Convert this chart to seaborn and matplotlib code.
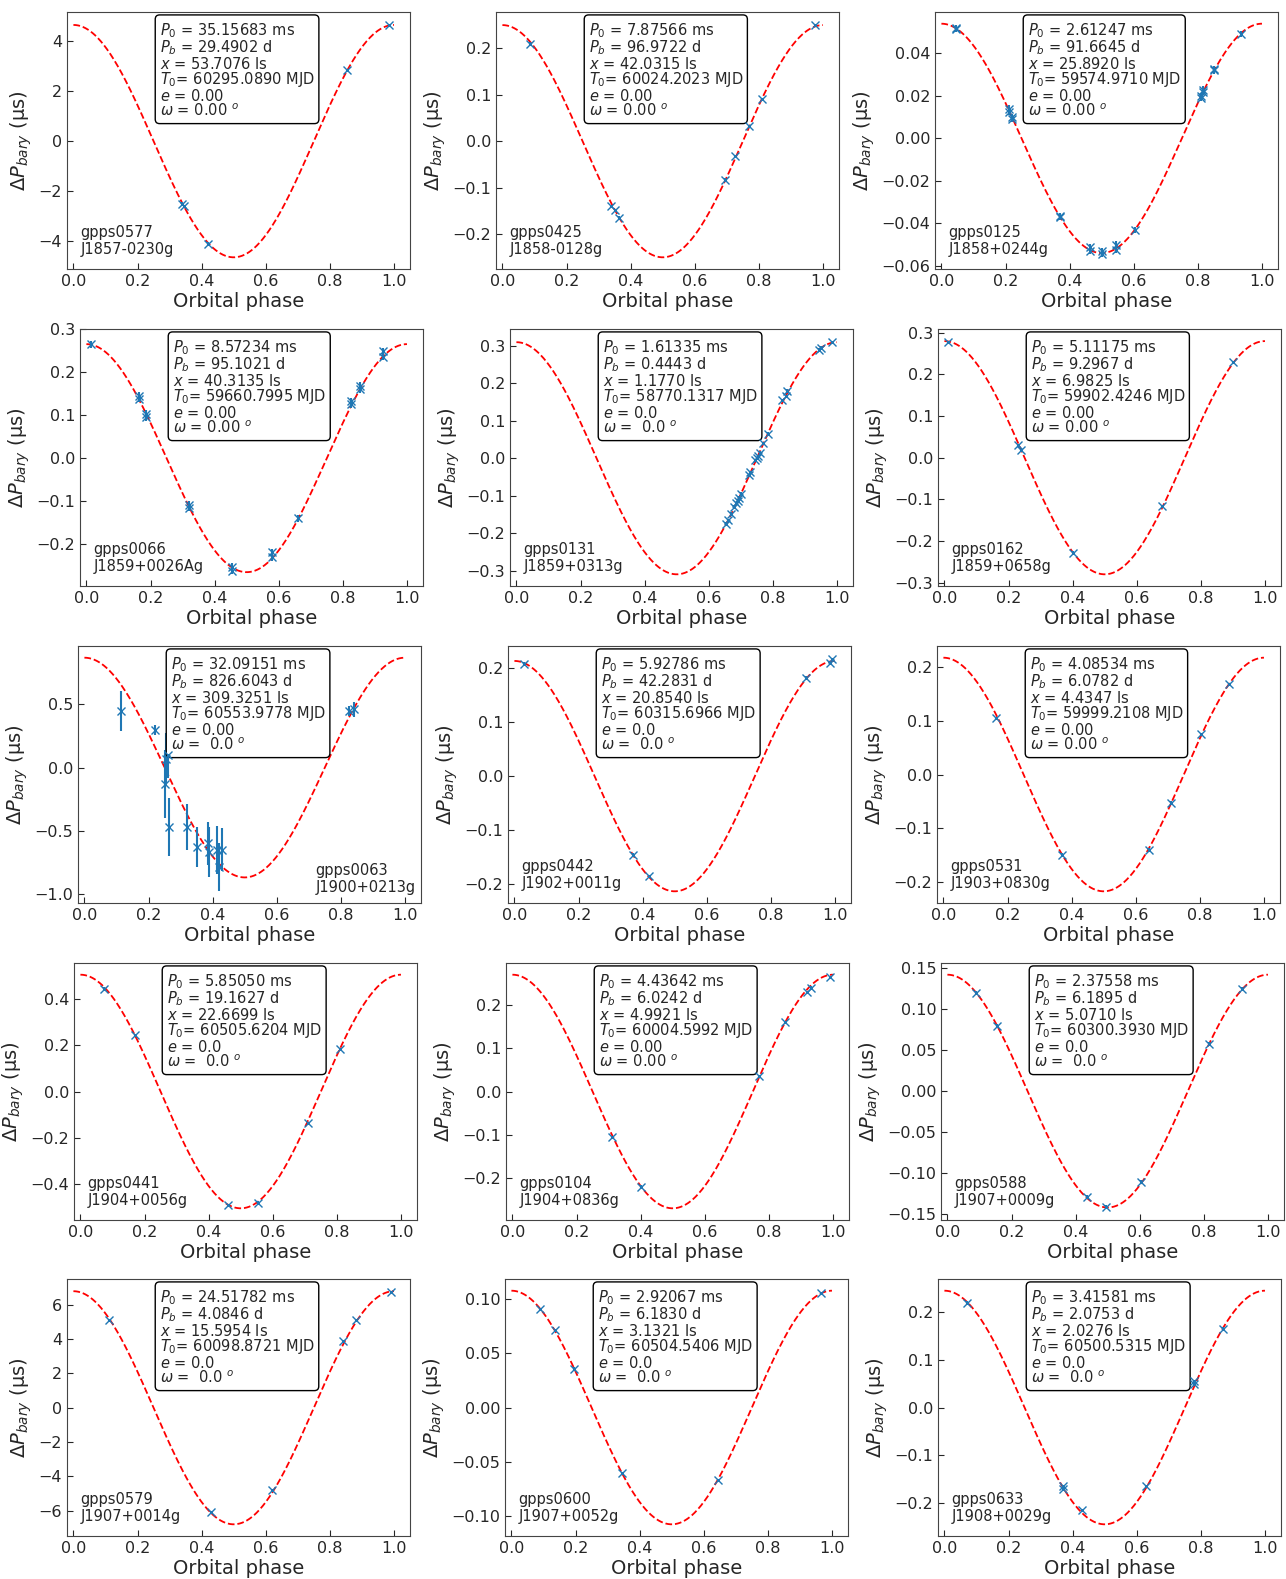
import numpy as np
import seaborn as sns
from matplotlib import pyplot as plt
from matplotlib.ticker import MultipleLocator

# pulsar names and fitted orbital parameters (as printed in the boxes)
gpps = ['gpps0577', 'gpps0425', 'gpps0125', 'gpps0066', 'gpps0131', 'gpps0162',
        'gpps0063', 'gpps0442', 'gpps0531', 'gpps0441', 'gpps0104', 'gpps0588',
        'gpps0579', 'gpps0600', 'gpps0633']
jnames = ['J1857-0230g', 'J1858-0128g', 'J1858+0244g', 'J1859+0026Ag', 'J1859+0313g',
          'J1859+0658g', 'J1900+0213g', 'J1902+0011g', 'J1903+0830g', 'J1904+0056g',
          'J1904+0836g', 'J1907+0009g', 'J1907+0014g', 'J1907+0052g', 'J1908+0029g']
p0_ms = ['35.15683', '7.87566', '2.61247', '8.57234', '1.61335', '5.11175', '32.09151',
         '5.92786', '4.08534', '5.85050', '4.43642', '2.37558', '24.51782', '2.92067', '3.41581']
pb_d = ['29.4902', '96.9722', '91.6645', '95.1021', '0.4443', '9.2967', '826.6043',
        '42.2831', '6.0782', '19.1627', '6.0242', '6.1895', '4.0846', '6.1830', '2.0753']
x_ls = ['53.7076', '42.0315', '25.8920', '40.3135', '1.1770', '6.9825', '309.3251',
        '20.8540', '4.4347', '22.6699', '4.9921', '5.0710', '15.5954', '3.1321', '2.0276']
t0_mjd = ['60295.0890', '60024.2023', '59574.9710', '59660.7995', '58770.1317', '59902.4246',
          '60553.9778', '60315.6966', '59999.2108', '60505.6204', '60004.5992', '60300.3930',
          '60098.8721', '60504.5406', '60500.5315']
ecc = ['0.00', '0.00', '0.00', '0.00', '0.0', '0.00', '0.00', '0.0', '0.00', '0.0',
       '0.00', '0.0', '0.0', '0.0', '0.0']
omega = ['0.00', '0.00', '0.00', '0.00', ' 0.0', '0.00', ' 0.0', ' 0.0', '0.00', ' 0.0',
         '0.00', ' 0.0', ' 0.0', ' 0.0', ' 0.0']
# model semi-amplitude of the period variation (us)
amp_us = [4.65, 0.25, 0.054, 0.265, 0.31, 0.28, 0.87, 0.213, 0.218, 0.505,
          0.27, 0.142, 6.8, 0.108, 0.245]

# measured points: phase, delta P (us), error (us)
ph_0577 = [0.34, 0.345, 0.42, 0.855, 0.985]
dp_0577 = [-2.5, -2.6, -4.1, 2.85, 4.65]
er_0577 = [0.05, 0.05, 0.05, 0.05, 0.05]

ph_0425 = [0.085, 0.34, 0.35, 0.365, 0.695, 0.725, 0.77, 0.81, 0.975]
dp_0425 = [0.21, -0.14, -0.148, -0.165, -0.083, -0.032, 0.032, 0.09, 0.25]
er_0425 = [0.003] * 9

ph_0125 = [0.045, 0.045, 0.21, 0.21, 0.22, 0.22, 0.37, 0.37, 0.465, 0.465, 0.5, 0.5,
           0.545, 0.545, 0.605, 0.81, 0.81, 0.815, 0.815, 0.85, 0.85, 0.935]
dp_0125 = [0.052, 0.0515, 0.014, 0.0125, 0.010, 0.009, -0.037, -0.0365, -0.051, -0.053,
           -0.053, -0.0545, -0.050, -0.0525, -0.043, 0.019, 0.020, 0.022, 0.023, 0.032,
           0.0325, 0.049]
er_0125 = [0.0015] * 22

ph_0066 = [0.015, 0.165, 0.165, 0.185, 0.185, 0.32, 0.32, 0.455, 0.455, 0.58, 0.58,
           0.66, 0.825, 0.825, 0.855, 0.855, 0.925, 0.925]
dp_0066 = [0.265, 0.145, 0.138, 0.103, 0.095, -0.108, -0.115, -0.252, -0.262, -0.218,
           -0.230, -0.14, 0.132, 0.125, 0.160, 0.168, 0.248, 0.235]
er_0066 = [0.008] * 18

ph_0131 = [0.655, 0.66, 0.67, 0.68, 0.685, 0.69, 0.695, 0.70, 0.725, 0.73, 0.745, 0.75,
           0.755, 0.76, 0.77, 0.785, 0.83, 0.84, 0.845, 0.945, 0.95, 0.985]
dp_0131 = [-0.175, -0.165, -0.148, -0.13, -0.12, -0.113, -0.105, -0.095, -0.045, -0.038,
           -0.006, 0.0, 0.006, 0.015, 0.04, 0.065, 0.155, 0.166, 0.18, 0.29, 0.295, 0.31]
er_0131 = [0.004] * 22

ph_0162 = [0.01, 0.23, 0.24, 0.40, 0.68, 0.90]
dp_0162 = [0.278, 0.03, 0.018, -0.228, -0.117, 0.23]
er_0162 = [0.003] * 6

ph_0063 = [0.115, 0.22, 0.25, 0.255, 0.26, 0.265, 0.32, 0.35, 0.385, 0.39, 0.415, 0.42,
           0.43, 0.825, 0.84]
dp_0063 = [0.45, 0.30, -0.13, 0.07, 0.10, -0.47, -0.47, -0.63, -0.60, -0.67, -0.65, -0.79,
           -0.65, 0.45, 0.46]
er_0063 = [0.16, 0.04, 0.27, 0.2, 0.18, 0.23, 0.18, 0.16, 0.17, 0.2, 0.19, 0.19, 0.17,
           0.04, 0.06]

ph_0442 = [0.03, 0.37, 0.42, 0.91, 0.985, 0.99]
dp_0442 = [0.208, -0.146, -0.185, 0.182, 0.21, 0.216]
er_0442 = [0.003] * 6

ph_0531 = [0.165, 0.37, 0.64, 0.71, 0.805, 0.89]
dp_0531 = [0.105, -0.15, -0.14, -0.053, 0.075, 0.168]
er_0531 = [0.003] * 6

ph_0441 = [0.075, 0.17, 0.46, 0.555, 0.71, 0.81]
dp_0441 = [0.445, 0.245, -0.49, -0.48, -0.135, 0.185]
er_0441 = [0.005] * 6

ph_0104 = [0.31, 0.40, 0.77, 0.85, 0.92, 0.93, 0.99]
dp_0104 = [-0.105, -0.22, 0.035, 0.16, 0.23, 0.24, 0.265]
er_0104 = [0.003] * 7

ph_0588 = [0.09, 0.155, 0.435, 0.495, 0.605, 0.815, 0.92]
dp_0588 = [0.12, 0.08, -0.129, -0.141, -0.111, 0.058, 0.125]
er_0588 = [0.002] * 7

ph_0579 = [0.11, 0.43, 0.62, 0.84, 0.88, 0.99]
dp_0579 = [5.1, -6.1, -4.8, 3.9, 5.1, 6.75]
er_0579 = [0.08] * 6

ph_0600 = [0.09, 0.135, 0.195, 0.345, 0.645, 0.965]
dp_0600 = [0.091, 0.072, 0.036, -0.061, -0.067, 0.106]
er_0600 = [0.001] * 6

ph_0633 = [0.07, 0.37, 0.37, 0.43, 0.63, 0.78, 0.78, 0.87]
dp_0633 = [0.22, -0.165, -0.17, -0.215, -0.165, 0.05, 0.055, 0.165]
er_0633 = [0.003] * 8

phases = [ph_0577, ph_0425, ph_0125, ph_0066, ph_0131, ph_0162, ph_0063, ph_0442,
          ph_0531, ph_0441, ph_0104, ph_0588, ph_0579, ph_0600, ph_0633]
dps = [dp_0577, dp_0425, dp_0125, dp_0066, dp_0131, dp_0162, dp_0063, dp_0442,
       dp_0531, dp_0441, dp_0104, dp_0588, dp_0579, dp_0600, dp_0633]
errs = [er_0577, er_0425, er_0125, er_0066, er_0131, er_0162, er_0063, er_0442,
        er_0531, er_0441, er_0104, er_0588, er_0579, er_0600, er_0633]

sns.set_style("ticks")
plt.rcParams['font.family'] = ['DejaVu Sans']
plt.rcParams['xtick.direction'] = 'in'
plt.rcParams['ytick.direction'] = 'in'
plt.rcParams['axes.edgecolor'] = '#444444'

W, H = 1286, 1579
fig, axes = plt.subplots(5, 3, figsize=(W / 100, H / 100), dpi=100)
phase_grid = np.linspace(0, 1, 400)

# panel placement in pixels (left edge per row/column, top per row)
lefts = [[67, 496, 935],
         [80, 510, 938],
         [78, 508, 937],
         [74, 506, 941],
         [67, 505, 938]]
row_top = [12, 329, 646, 963, 1279]
ax_w, ax_h = 343, 257

for i, ax in enumerate(axes.flat):
    r, c = divmod(i, 3)
    ax.set_position([lefts[r][c] / W, 1 - (row_top[r] + ax_h) / H, ax_w / W, ax_h / H])

    model = amp_us[i] * np.cos(2 * np.pi * phase_grid)
    sns.lineplot(x=phase_grid, y=model, ax=ax, color='red', linestyle='--', linewidth=1.3)
    ax.errorbar(phases[i], dps[i], yerr=errs[i], fmt='x', color='#1f77b4',
                markersize=6, elinewidth=1.5, zorder=3)
    ax.set_xlim(-0.02, 1.05)
    ax.set_xticks([0.0, 0.2, 0.4, 0.6, 0.8, 1.0])
    if gpps[i] in ('gpps0577', 'gpps0579'):
        ax.yaxis.set_major_locator(MultipleLocator(2))
    ax.tick_params(labelsize=11.5, length=4)
    ax.set_xlabel('Orbital phase', fontsize=14, labelpad=2)
    ax.set_ylabel(r'$\Delta P_{bary}$ (μs)', fontsize=14, labelpad=3)

    box = (r'$P_0$ = ' + p0_ms[i] + ' ms\n'
           r'$P_b$ = ' + pb_d[i] + ' d\n'
           r'$x$ = ' + x_ls[i] + ' ls\n'
           r'$T_0$= ' + t0_mjd[i] + ' MJD\n'
           r'$e$ = ' + ecc[i] + '\n'
           r'$\omega$ = ' + omega[i] + r' $^o$')
    ax.text(0.27, 0.965, box, transform=ax.transAxes, fontsize=10.5, va='top', ha='left',
            linespacing=0.9,
            bbox=dict(boxstyle='round', facecolor='white', edgecolor='black'))

    label = gpps[i] + '\n' + jnames[i]
    if gpps[i] == 'gpps0063':
        ax.text(0.985, 0.03, label, transform=ax.transAxes, fontsize=10.5,
                va='bottom', ha='right', multialignment='left')
    else:
        ax.text(0.04, 0.045, label, transform=ax.transAxes, fontsize=10.5, va='bottom')

plt.savefig('out.png')
